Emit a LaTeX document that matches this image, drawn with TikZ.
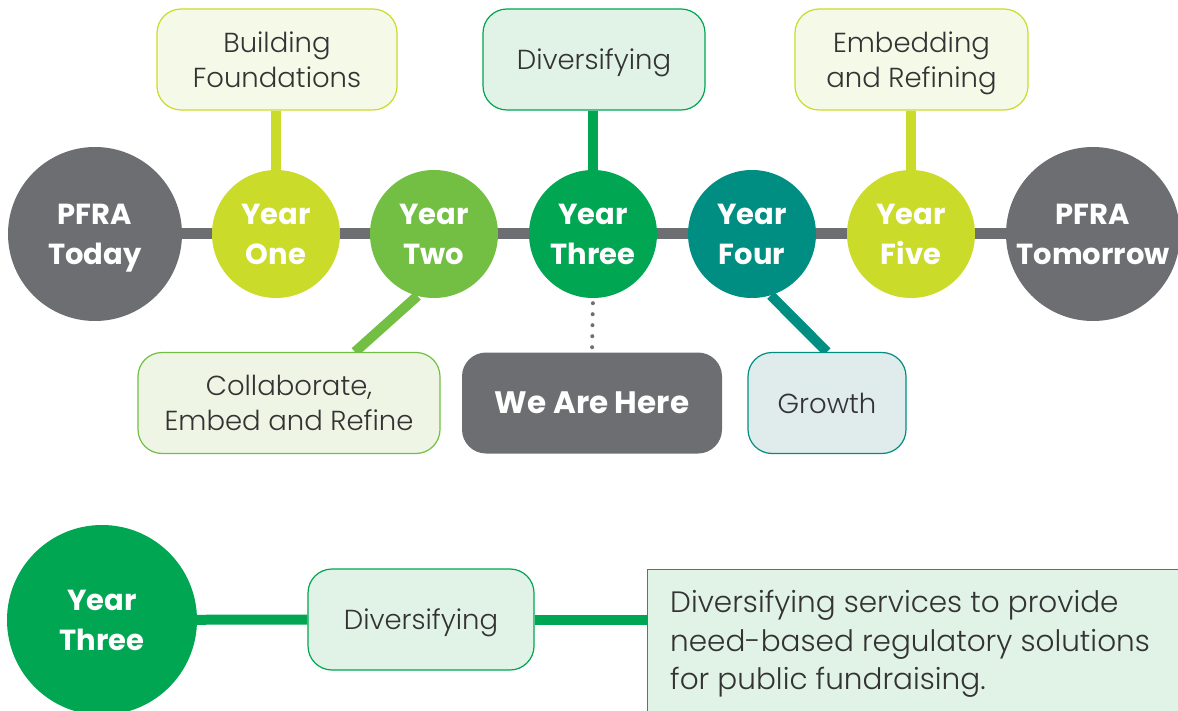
\documentclass[tikz,border=0pt]{standalone}
\usepackage{fontspec}
\setmainfont{Poppins}
\newfontfamily\lightfont{Poppins Light}
\usetikzlibrary{calc,backgrounds}

\definecolor{pfgray}{HTML}{6D6E71}
\definecolor{pflime}{HTML}{CBDB2A}
\definecolor{pfleaf}{HTML}{72BF44}
\definecolor{pfgreen}{HTML}{00A651}
\definecolor{pfteal}{HTML}{008D82}
\definecolor{limefill}{HTML}{F5F9E8}
\definecolor{leaffill}{HTML}{EEF5E5}
\definecolor{greenfill}{HTML}{E1F2E6}
\definecolor{tealfill}{HTML}{DFECEB}
\definecolor{txtgray}{HTML}{333333}

\tikzset{
  yearcircle/.style={circle, minimum size=128pt, inner sep=0pt, text=white,
    align=center, text depth=0pt, font=\bfseries\fontsize{29}{40}\selectfont},
  endcircle/.style={yearcircle, minimum size=174pt, fill=pfgray},
  labelbox/.style={rectangle, rounded corners=24pt, line width=1.2pt,
    minimum height=101pt, inner sep=0pt, align=center, text=txtgray,
    text depth=0pt, font=\lightfont\fontsize{27.5}{35}\selectfont},
  stem/.style={line width=10pt},
}

\begin{document}
\begin{tikzpicture}[x=1pt, y=-1pt]
\useasboundingbox (0,0) rectangle (1178,711);
\clip (0,0) rectangle (1178,711);

% timeline stops
\node[endcircle] (today) at (95,234) {PFRA\\Today};
\node[yearcircle, fill=pflime]  (cone)   at (276,234) {Year\\One};
\node[yearcircle, fill=pfleaf]  (ctwo)   at (434,234) {Year\\Two};
\node[yearcircle, fill=pfgreen] (cthree) at (593,234) {Year\\Three};
\node[yearcircle, fill=pfteal]  (cfour)  at (752,234) {Year\\Four};
\node[yearcircle, fill=pflime]  (cfive)  at (911,234) {Year\\Five};
\node[endcircle] (tomorrow) at (1093,234) {PFRA\\Tomorrow};

% theme boxes above the line
\node[labelbox, draw=pflime, fill=limefill, minimum width=240pt] (found) at (277,59.5) {Building\\Foundations};
\node[labelbox, draw=pfgreen, fill=greenfill, minimum width=222pt] (divtop) at (594,59.5) {Diversifying};
\node[labelbox, draw=pflime, fill=limefill, minimum width=233pt] (embed) at (911.5,59.5) {Embedding\\and Refining};

% theme boxes below the line
\node[labelbox, draw=pfleaf, fill=leaffill, minimum width=302pt] (collab) at (289,403) {Collaborate,\\Embed and Refine};
\node[labelbox, fill=pfgray, text=white, minimum width=260pt,
      font=\bfseries\fontsize{31}{35}\selectfont] (here) at (592,403) {We Are Here};
\node[labelbox, draw=pfteal, fill=tealfill, minimum width=158pt] (growth) at (827,403) {Growth};

% detail row
\node[yearcircle, fill=pfgreen, minimum size=190pt] (bigthree) at (102,620) {Year\\Three};
\node[labelbox, draw=pfgreen, fill=greenfill, minimum width=226pt] (divbot) at (421,619.5) {Diversifying};
\node[rectangle, draw=pfgreen, line width=1.2pt, fill=greenfill, anchor=north west,
      minimum width=560pt, minimum height=170pt] (desc) at (647,569) {};
\node[anchor=north west, inner sep=0pt, align=left, text=txtgray,
      font=\lightfont\fontsize{29.5}{38.5}\selectfont] (desctext)
      at ([xshift=23pt, yshift=-21pt]desc.north west)
      {Diversifying services to provide\\need-based regulatory solutions\\for public fundraising.};

\begin{scope}[on background layer]
  \draw[pfgray, line width=11pt] (today.center) -- (tomorrow.center);
  \draw[stem, pflime]  (cone.north) -- (cone.north |- found.south);
  \draw[stem, pfgreen] (cthree.north) -- (cthree.north |- divtop.south);
  \draw[stem, pflime]  (cfive.north) -- (cfive.north |- embed.south);
  \draw[stem, pfleaf]  (ctwo.255) -- ($(collab.north)+(66,0)$);
  \draw[stem, pfteal]  (cfour.287) -- (growth.north);
  \draw[stem, pfgreen] (bigthree.center) -- (divbot.west);
  \draw[stem, pfgreen] (divbot.east) -- (divbot.east -| desc.west);
\end{scope}
\draw[pfgray, line width=4pt, line cap=round, dash pattern=on 0pt off 11pt,
      shorten <=5pt, shorten >=4pt] (cthree.south) -- (here.north);
\end{tikzpicture}
\end{document}
